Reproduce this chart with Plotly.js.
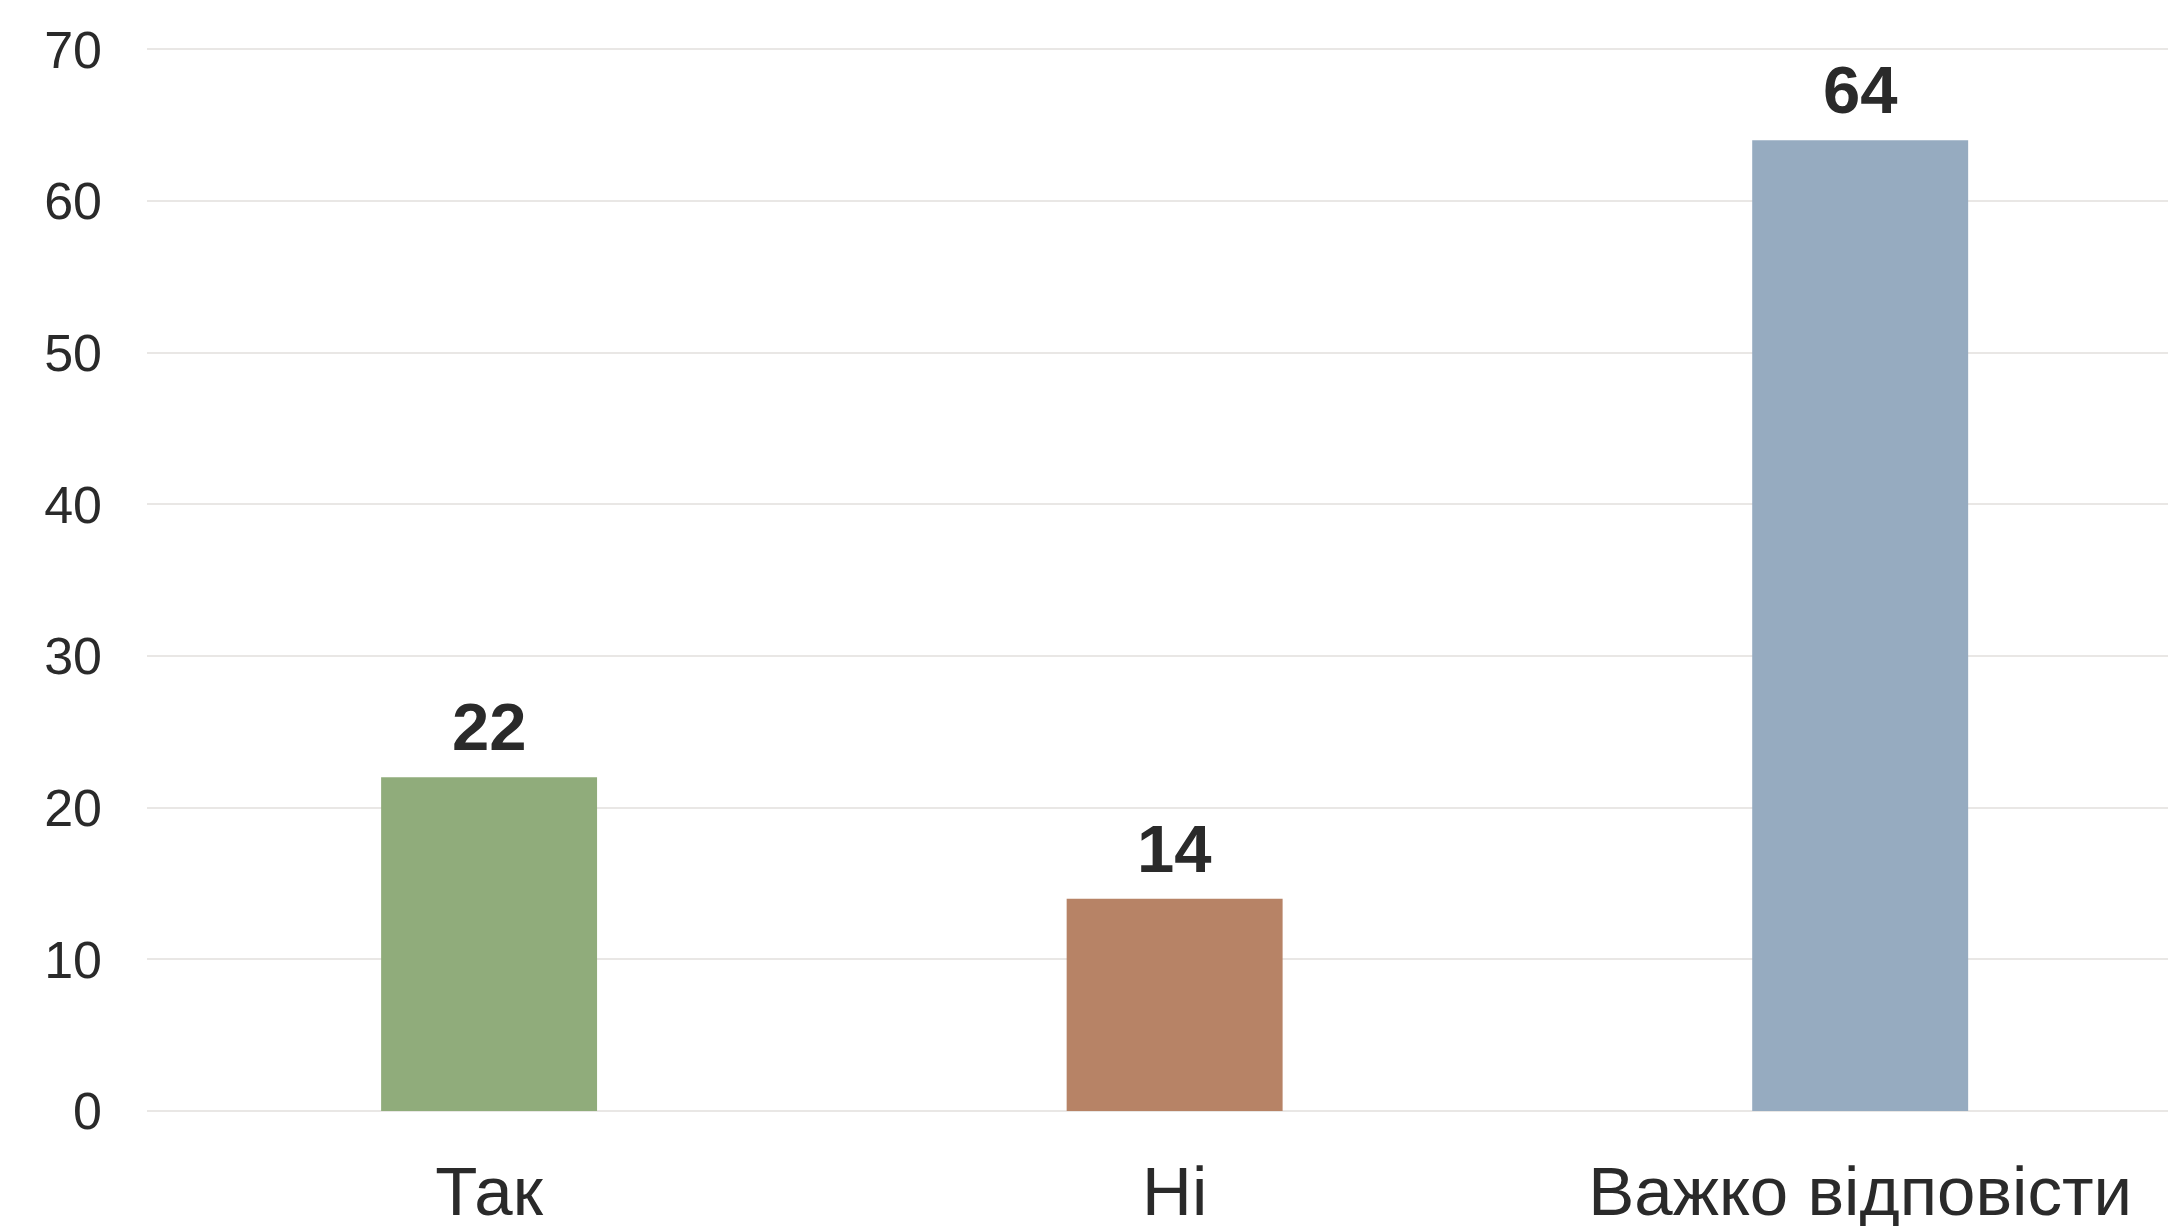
<!DOCTYPE html>
<html>
<head>
<meta charset="utf-8">
<script src="https://cdn.plot.ly/plotly-3.0.1.min.js"></script>
<style>html,body{margin:0;padding:0;background:#fff;}#chart{width:2168px;height:1226px;}</style>
</head>
<body>
<div id="chart"></div>
<script>
const categories = ["Так", "Ні", "Важко відповісти"];
const values = [22, 14, 64];
const barColors = ["#90AC7B", "#B78366", "#96ABC0"];
const yTickVals = [0, 10, 20, 30, 40, 50, 60, 70];

const trace = {
  type: "bar",
  x: categories,
  y: values,
  width: 0.315,
  marker: {color: barColors, line: {width: 0}},
  hoverinfo: "skip"
};

const annotations = categories.map((c, i) => ({
  x: c, y: values[i], xref: "x", yref: "y",
  text: "<b>" + values[i] + "</b>",
  showarrow: false, yanchor: "bottom", yshift: 11,
  font: {family: "Liberation Sans, Arial, sans-serif", size: 67, color: "#2a2a2a"}
}));

const layout = {
  width: 2168, height: 1226,
  margin: {l: 147, r: 0, t: 19, b: 115},
  paper_bgcolor: "#fff", plot_bgcolor: "#fff",
  showlegend: false,
  font: {family: "Liberation Sans, Arial, sans-serif", color: "#2a2a2a"},
  xaxis: {
    type: "category",
    range: [-0.499, 2.449],
    showgrid: false, zeroline: false, showline: false,
    ticks: "", tickfont: {size: 69, color: "#2a2a2a"},
    ticklabelstandoff: 34
  },
  yaxis: {
    range: [0, 72],
    tickvals: yTickVals,
    ticktext: yTickVals.map(String),
    showgrid: true, gridcolor: "#e9e7e5", gridwidth: 2,
    zeroline: true, zerolinecolor: "#e9e7e5", zerolinewidth: 2,
    showline: false, ticks: "",
    tickfont: {size: 52, color: "#2a2a2a"},
    ticklabelstandoff: 44
  },
  annotations: annotations
};

Plotly.newPlot("chart", [trace], layout, {displayModeBar: false, staticPlot: true});
</script>
</body>
</html>
